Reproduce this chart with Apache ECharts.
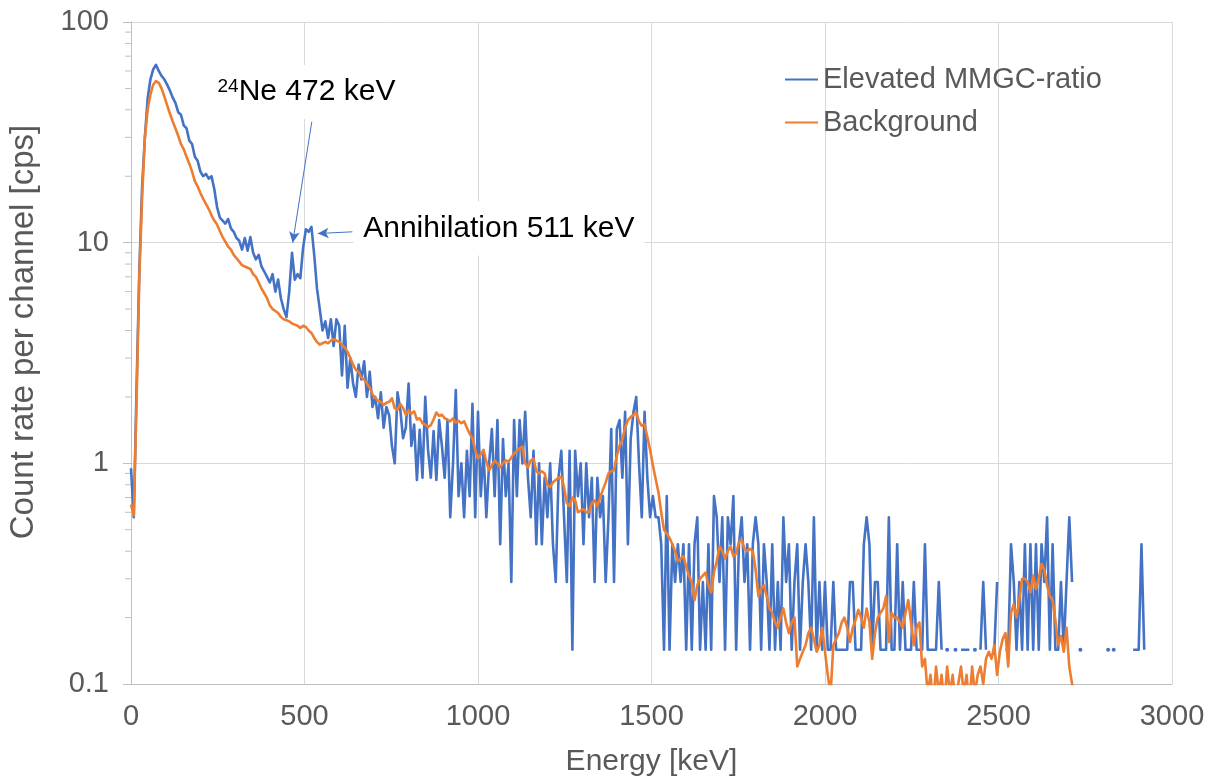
<!DOCTYPE html>
<html>
<head>
<meta charset="utf-8">
<title>Spectrum</title>
<script src="https://cdn.jsdelivr.net/npm/echarts@6/dist/echarts.min.js"></script>
<style>
	html, body { margin: 0; padding: 0; background: #fff; }
	#main { width: 1216px; height: 783px; }
</style>
</head>
<body>
<div id="main"></div>
<script>
// channel width of the spectra, first channel at 0 keV
const CHANNEL_KEV = 8;

// Elevated MMGC-ratio, count rate per channel [cps] (null = zero counts)
const elevated = [
	0.95, 0.57, 2.2, 7.5, 18, 30, 45, 55, 61, 64,            // 0
	60, 57, 55, 52, 49, 45.5, 43, 39, 38, 34,                // 80
	33, 29, 28, 24.5, 23.5, 21, 20, 20.5, 19.5, 20,          // 160
	17.5, 14.5, 13, 12.6, 12.2, 12.8, 11.6, 11.2, 10.5, 10.2, // 240
	9.3, 10.5, 9.2, 10.6, 9, 8.4, 8.8, 7.8, 7.4, 7.0,        // 320
	6.6, 7.2, 6.0, 6.8, 5.6, 5.0, 4.6, 6.0, 9.0, 6.8,        // 400
	7.2, 6.9, 9.5, 11.5, 11.2, 11.8, 8.8, 6.2, 5.0, 4.0,     // 480
	4.4, 3.7, 4.5, 3.4, 4.5, 4.2, 2.5, 4.2, 2.2, 3.0,        // 560
	2.3, 2.0, 2.8, 2.4, 2.9, 2.0, 2.6, 1.8, 2.0, 1.6,        // 640
	2.1, 1.45, 1.8, 1.65, 1.2, 1.0, 2.1, 1.75, 1.3, 1.45,    // 720
	2.3, 1.2, 1.5, 0.84, 1.42, 0.86, 2.0, 1.15, 0.86, 1.4,   // 800
	0.84, 1.57, 1.2, 0.86, 1.57, 0.57, 1.0, 2.15, 0.71, 1.0, // 880
	0.57, 1.14, 0.71, 1.86, 0.57, 1.71, 0.71, 1.14, 0.57, 1.0, // 960
	1.43, 0.71, 1.57, 0.43, 1.29, 0.71, 1.0, 0.29, 1.57, 0.71, // 1040
	1.57, 1.0, 1.71, 0.86, 0.57, 1.14, 0.43, 1.0, 0.43, 0.86,  // 1120
	0.57, 1.0, 0.43, 0.29, 0.86, 1.14, 0.57, 0.29, 1.14, 0.143, // 1200
	1.14, 0.71, 1.0, 0.43, 1.0, 0.57, 0.86, 0.29, 0.86, 0.57,  // 1280
	0.71, 0.29, 0.57, 1.43, 0.29, 1.43, 1.57, 0.86, 1.71, 0.43, // 1360
	1.29, 1.71, 2.0, 1.0, 0.57, 1.71, 0.86, 0.57, 0.71, 0.57,  // 1440
	0.57, 0.43, 0.143, 0.71, 0.143, 0.43, 0.29, 0.43, 0.29, 0.43, // 1520
	0.143, 0.43, 0.143, 0.43, 0.57, 0.143, 0.29, 0.143, 0.43, 0.143, // 1600
	0.71, 0.57, 0.29, 0.57, 0.143, 0.57, 0.43, 0.71, 0.143, 0.43, // 1680
	0.57, 0.29, 0.43, 0.143, 0.43, 0.57, 0.43, 0.143, 0.43, 0.29, // 1760
	0.143, 0.43, 0.143, 0.29, 0.143, 0.57, 0.29, 0.43, 0.143, 0.29, // 1840
	0.43, 0.143, 0.29, 0.43, 0.29, 0.143, 0.57, 0.143, 0.29, 0.143, // 1920
	0.29, 0.143, 0.143, 0.29, 0.143, 0.143, 0.143, 0.143, 0.143, 0.29, // 2000
	0.29, 0.143, 0.143, 0.143, 0.43, 0.57, 0.43, 0.143, 0.29, 0.29, // 2080
	0.143, 0.143, 0.143, 0.57, 0.143, 0.143, 0.43, 0.143, 0.29, 0.143, // 2160
	0.143, 0.143, 0.29, 0.143, 0.143, 0.143, 0.43, 0.143, 0.143, 0.143, // 2240
	0.143, 0.29, 0.143, null, 0.143, null, null, 0.143, null, 0.143, // 2320
	0.143, 0.143, 0.143, null, 0.143, null, 0.143, 0.29, 0.143, null, // 2400
	null, 0.143, 0.29, null, null, 0.143, 0.143, 0.43, 0.29, 0.143, // 2480
	0.29, 0.143, 0.43, 0.143, 0.43, 0.143, 0.43, 0.143, 0.43, 0.29, // 2560
	0.57, 0.143, 0.43, 0.143, 0.143, 0.29, 0.143, 0.29, 0.57, 0.29, // 2640
	null, null, 0.143, null, null, null, null, null, null, null,   // 2720
	null, null, 0.143, null, 0.143, null, null, null, null, null,  // 2800
	null, 0.143, 0.143, 0.143, 0.43, 0.143                        // 2880
];

// Background, count rate per channel [cps]
const background = [
	0.65, 0.58, 1.9, 7.0, 16, 30, 40, 47, 52, 54,               // 0
	53, 50, 46, 42, 38.5, 35.5, 33, 30.5, 28, 26.5,             // 80
	24.5, 22.8, 21, 19, 18, 16.8, 15.8, 15, 14.2, 13.3,         // 160
	12.6, 12.1, 11.3, 10.6, 10.1, 9.6, 9.3, 8.8, 8.5, 8.2,      // 240
	7.9, 7.8, 7.7, 7.6, 7.2, 7.0, 6.6, 6.2, 5.9, 5.6,           // 320
	5.2, 5.0, 4.9, 4.8, 4.6, 4.5, 4.45, 4.4, 4.3, 4.25,         // 400
	4.2, 4.1, 4.2, 4.15, 4.0, 3.9, 3.7, 3.55, 3.45, 3.5,        // 480
	3.55, 3.5, 3.6, 3.65, 3.6, 3.55, 3.45, 3.35, 3.2, 3.0,      // 560
	2.8, 2.65, 2.6, 2.45, 2.4, 2.3, 2.2, 2.05, 1.98, 1.92,      // 640
	1.9, 1.84, 1.88, 1.9, 1.97, 1.78, 1.75, 1.86, 1.78, 1.66,   // 720
	1.74, 1.68, 1.72, 1.58, 1.6, 1.52, 1.5, 1.46, 1.49, 1.58,   // 800
	1.7, 1.64, 1.66, 1.6, 1.58, 1.55, 1.6, 1.53, 1.56, 1.52,    // 880
	1.55, 1.45, 1.36, 1.3, 1.15, 1.05, 1.1, 1.15, 1.02, 0.93,   // 960
	0.98, 1.03, 1.0, 0.96, 1.0, 1.03, 1.02, 1.06, 1.11, 1.14,   // 1040
	1.17, 1.19, 1.0, 0.96, 1.03, 1.05, 0.92, 0.9, 0.92, 0.9,    // 1120
	0.8, 0.78, 0.82, 0.84, 0.86, 0.87, 0.78, 0.66, 0.64, 0.7,   // 1200
	0.68, 0.6, 0.61, 0.62, 0.6, 0.6, 0.66, 0.68, 0.64, 0.7,     // 1280
	0.76, 0.82, 0.9, 0.92, 0.93, 1.08, 1.2, 1.28, 1.45, 1.57,   // 1360
	1.62, 1.66, 1.7, 1.55, 1.48, 1.5, 1.32, 1.15, 0.98, 0.85,   // 1440
	0.74, 0.6, 0.5, 0.48, 0.46, 0.43, 0.4, 0.36, 0.37, 0.38,    // 1520
	0.34, 0.31, 0.29, 0.24, 0.28, 0.3, 0.31, 0.32, 0.28, 0.26,  // 1600
	0.32, 0.36, 0.42, 0.4, 0.37, 0.4, 0.42, 0.38, 0.39, 0.44,   // 1680
	0.45, 0.41, 0.4, 0.41, 0.4, 0.33, 0.25, 0.27, 0.28, 0.25,   // 1760
	0.22, 0.21, 0.19, 0.18, 0.2, 0.22, 0.19, 0.17, 0.19, 0.2,   // 1840
	0.12, 0.13, 0.14, 0.15, 0.17, 0.18, 0.16, 0.14, 0.15, 0.18, // 1920
	0.14, 0.11, 0.09, 0.15, 0.16, 0.17, 0.19, 0.2, 0.18, 0.155, // 2000
	0.18, 0.195, 0.217, 0.2, 0.18, 0.22, 0.19, 0.13, 0.17, 0.2, // 2080
	0.21, 0.22, 0.25, 0.155, 0.21, 0.2, 0.2, 0.19, 0.18, 0.21,  // 2160
	0.24, 0.19, 0.15, 0.18, 0.19, 0.12, 0.13, 0.09, 0.11, 0.08, // 2240
	0.12, 0.09, 0.11, 0.08, 0.12, 0.09, 0.11, 0.08, 0.1, 0.12,  // 2320
	0.09, 0.11, 0.08, 0.12, 0.09, 0.11, 0.12, 0.1, 0.13, 0.14,  // 2400
	0.13, 0.15, 0.11, 0.14, 0.16, 0.17, 0.12, 0.21, 0.23, 0.2,  // 2480
	0.24, 0.3, 0.3, 0.29, 0.26, 0.31, 0.27, 0.3, 0.35, 0.33,    // 2560
	0.28, 0.25, 0.24, 0.195, 0.15, 0.165, 0.14, 0.18, 0.12, 0.1, // 2640
	0.085                                                        // 2720
];

// log axis minor ticks (2..9 of each decade)
const minorTicks = [0.2, 0.3, 0.4, 0.5, 0.6, 0.7, 0.8, 0.9,
	2, 3, 4, 5, 6, 7, 8, 9, 20, 30, 40, 50, 60, 70, 80, 90];

// annotations: [energy keV, rate cps]
const neArrow = [[521, 35.3], [466, 10.0]];
const annArrow = [[638, 11.2], [538, 11.0]];
const neLabelAt = [219, 48.2];
const annLabelAt = [639, 11.6];

const BLUE = '#4472C4';
const ORANGE = '#ED7D31';
const GRAY_TEXT = '#595959';
const FONT = '"Liberation Sans", Arial, sans-serif';

// build [energy, value] pairs, isolated non-zero channels get a dot
function toPairs(arr) {
	return arr.map((v, i) => {
		const e = i * CHANNEL_KEV;
		if (v === null) return [e, '-'];
		const prevEmpty = i === 0 || arr[i - 1] === null;
		const nextEmpty = i === arr.length - 1 || arr[i + 1] === null;
		return { value: [e, v], symbolSize: (prevEmpty && nextEmpty) ? 4 : 0 };
	});
}

const chart = echarts.init(document.getElementById('main'));

chart.setOption({
	animation: false,
	backgroundColor: '#fff',
	textStyle: { fontFamily: FONT },
	grid: { left: 131, right: 44, top: 22, bottom: 99, containLabel: false, outerBoundsMode: 'none' },
	legend: {
		orient: 'vertical',
		left: 780,
		top: 60,
		itemWidth: 33,
		itemHeight: 2,
		itemGap: 14,
		icon: 'rect',
		selectedMode: false,
		textStyle: { fontSize: 29, color: GRAY_TEXT, fontFamily: FONT },
		data: ['Elevated MMGC-ratio', 'Background']
	},
	xAxis: {
		type: 'value',
		min: 0,
		max: 3000,
		interval: 500,
		name: 'Energy [keV]',
		nameLocation: 'middle',
		nameGap: 63,
		nameTextStyle: { fontSize: 30, color: GRAY_TEXT, fontFamily: FONT },
		axisLine: { show: true, lineStyle: { color: '#bfbfbf', width: 1 } },
		axisTick: { show: false },
		axisLabel: {
			fontSize: 29, color: GRAY_TEXT, margin: 18, fontFamily: FONT,
			formatter: v => String(v)
		},
		splitLine: { show: true, lineStyle: { color: '#d9d9d9', width: 1 } }
	},
	yAxis: {
		type: 'log',
		logBase: 10,
		min: 0.1,
		max: 100,
		name: 'Count rate per channel [cps]',
		nameLocation: 'middle',
		nameGap: 91,
		nameTextStyle: { fontSize: 33, color: GRAY_TEXT, fontFamily: FONT, padding: [0, 0, 0, 42] },
		axisLine: { show: true, lineStyle: { color: '#bfbfbf', width: 1 } },
		axisTick: { show: true, length: 8, lineStyle: { color: '#bfbfbf' } },
		axisLabel: {
			fontSize: 29, color: GRAY_TEXT, margin: 22, fontFamily: FONT,
			formatter: v => String(+Number(v).toPrecision(3))
		},
		splitLine: { show: true, lineStyle: { color: '#d9d9d9', width: 1 } }
	},
	series: [
		{
			name: 'Elevated MMGC-ratio',
			type: 'line',
			data: toPairs(elevated),
			showSymbol: true,
			showAllSymbol: true,
			symbol: 'circle',
			itemStyle: { color: BLUE },
			lineStyle: { color: BLUE, width: 2.6, join: 'round' },
			connectNulls: false,
			emphasis: { disabled: true },
			markLine: {
				silent: true,
				symbol: ['none', 'arrow'],
				symbolSize: [8, 11],
				label: { show: false },
				lineStyle: { color: BLUE, width: 1, type: 'solid' },
				emphasis: { disabled: true },
				data: [
					[{ coord: neArrow[0] }, { coord: neArrow[1] }],
					[{ coord: annArrow[0] }, { coord: annArrow[1] }]
				]
			},
			markPoint: {
				silent: true,
				symbol: 'circle',
				symbolSize: 1,
				itemStyle: { color: 'rgba(0,0,0,0)' },
				label: {
					show: true,
					position: 'right',
					distance: 0,
					color: '#000',
					fontSize: 30,
					fontFamily: FONT,
					backgroundColor: '#fff',
					padding: [12, 10, 12, 10],
					rich: {
						sup: { fontSize: 19, color: '#000', fontFamily: FONT, verticalAlign: 'top', lineHeight: 30 },
						t: { fontSize: 30, color: '#000', fontFamily: FONT, lineHeight: 30 }
					}
				},
				data: [
					{ coord: neLabelAt, label: { formatter: '{sup|24}{t|Ne 472 keV}' } },
					{ coord: annLabelAt, label: { formatter: '{t|Annihilation 511 keV}' } }
				]
			}
		},
		{
			name: 'Background',
			type: 'line',
			data: toPairs(background),
			showSymbol: false,
			itemStyle: { color: ORANGE },
			lineStyle: { color: ORANGE, width: 2.6, join: 'round' },
			emphasis: { disabled: true }
		},
		{
			// minor ticks of the log axis, drawn through the axis scale
			type: 'custom',
			silent: true,
			clip: false,
			z: 1,
			renderItem: (params, api) => {
				const p = api.coord([0, api.value(1)]);
				return {
					type: 'line',
					shape: { x1: p[0] - 6, y1: p[1], x2: p[0], y2: p[1] },
					style: { stroke: '#bfbfbf', lineWidth: 1 }
				};
			},
			data: minorTicks.map(v => [0, v])
		}
	]
});
</script>
</body>
</html>
